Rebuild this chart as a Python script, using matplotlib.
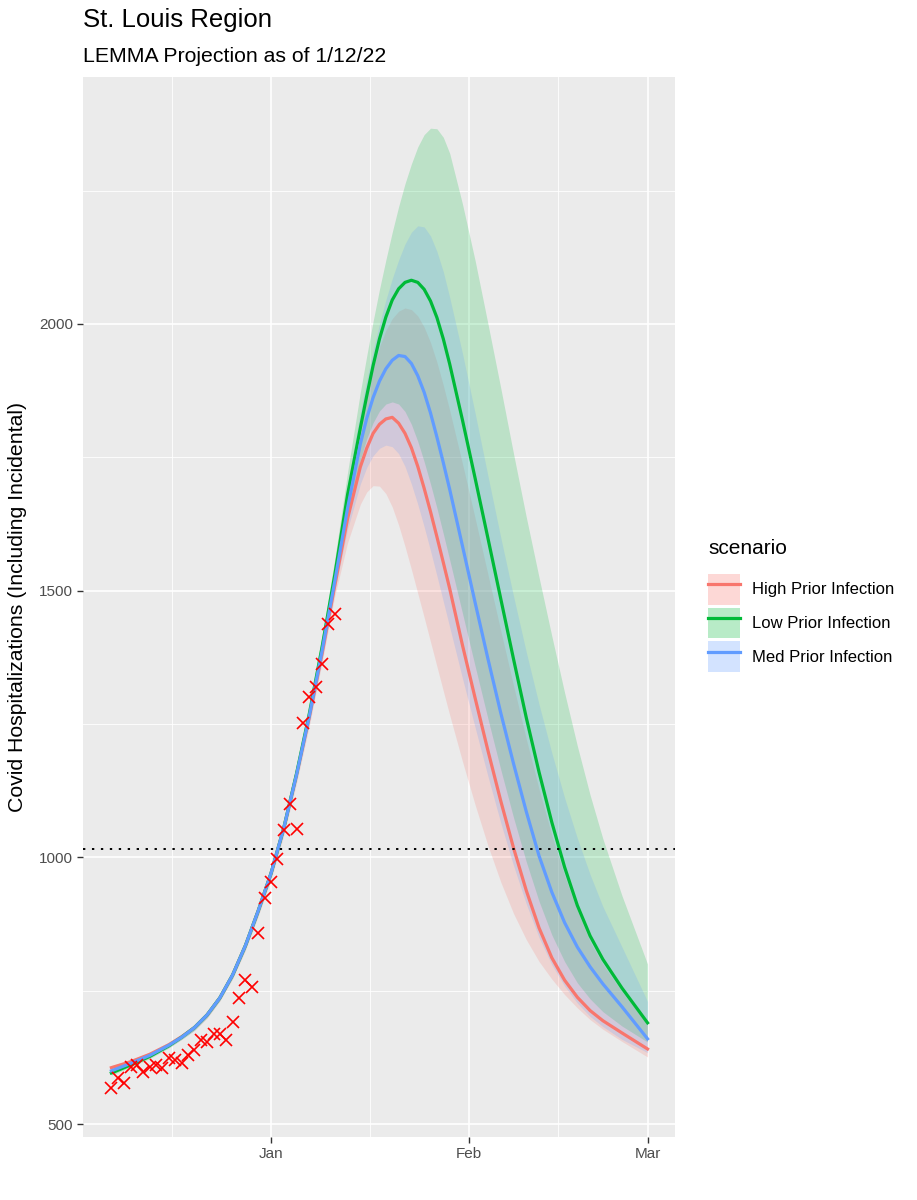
import numpy as np
import matplotlib
matplotlib.use("Agg")
import matplotlib.pyplot as plt
import matplotlib.dates as mdates
from matplotlib.patches import Patch
from matplotlib.lines import Line2D

plt.rcParams['font.family'] = ['Liberation Sans', 'DejaVu Sans']

# days counted from 2022-01-01
days = [-25, -22, -19, -16, -14, -12, -10, -8, -6, -4, -2, 0, 2, 4, 6, 8,
        10, 12, 14, 15, 16, 17, 18, 19, 20, 21, 22, 23, 24, 25, 26, 27, 28,
        30, 32, 34, 36, 38, 40, 42, 44, 46, 48, 50, 52, 55, 59]

high_med = [606, 617, 631, 649, 664, 681, 705, 737, 780, 835, 900, 970, 1055, 1155, 1263, 1382,
            1510, 1635, 1732, 1767, 1795, 1812, 1822, 1825, 1814, 1795, 1768, 1733, 1692, 1648, 1601, 1553, 1504,
            1398, 1298, 1200, 1106, 1018, 938, 868, 812, 770, 738, 713, 694, 671, 641]
high_lo = [600, 611, 625, 644, 659, 676, 699, 731, 773, 826, 890, 958, 1041, 1139, 1246, 1365,
           1490, 1590, 1662, 1685, 1697, 1696, 1682, 1657, 1623, 1583, 1540, 1495, 1450, 1404, 1358, 1312, 1267,
           1180, 1098, 1022, 954, 895, 846, 805, 772, 743, 718, 696, 678, 655, 626]
high_hi = [610, 621, 635, 654, 669, 687, 711, 744, 788, 844, 910, 982, 1069, 1172, 1284, 1407,
           1535, 1690, 1815, 1870, 1918, 1957, 1988, 2010, 2024, 2030, 2027, 2015, 1994, 1965, 1928, 1885, 1838,
           1738, 1635, 1530, 1425, 1322, 1222, 1128, 1042, 966, 900, 842, 800, 748, 686]

low_med = [596, 611, 627, 647, 663, 681, 705, 737, 780, 835, 900, 970, 1055, 1157, 1269, 1394,
           1530, 1680, 1805, 1865, 1922, 1972, 2013, 2045, 2066, 2078, 2082, 2078, 2065, 2043, 2012, 1972, 1925,
           1820, 1710, 1598, 1485, 1372, 1262, 1160, 1066, 982, 910, 853, 809, 755, 690]
low_lo = [592, 607, 623, 643, 659, 676, 700, 732, 774, 828, 892, 962, 1046, 1145, 1255, 1377,
          1505, 1640, 1745, 1785, 1815, 1837, 1850, 1854, 1850, 1836, 1812, 1780, 1742, 1700, 1655, 1607, 1558,
          1458, 1358, 1260, 1165, 1075, 992, 918, 855, 805, 765, 735, 711, 684, 654]
low_hi = [600, 615, 632, 652, 668, 687, 711, 744, 788, 844, 910, 982, 1069, 1173, 1288, 1415,
          1560, 1722, 1872, 1940, 2005, 2065, 2120, 2172, 2220, 2263, 2300, 2332, 2355, 2367, 2366, 2350, 2320,
          2225, 2118, 2000, 1880, 1757, 1638, 1525, 1415, 1309, 1209, 1117, 1035, 928, 800]

med_med = [600, 614, 629, 648, 663, 681, 705, 737, 780, 835, 900, 970, 1055, 1155, 1265, 1387,
           1518, 1655, 1775, 1823, 1862, 1893, 1916, 1932, 1941, 1939, 1926, 1903, 1872, 1833, 1788, 1740, 1690,
           1584, 1477, 1372, 1271, 1176, 1086, 1003, 935, 878, 832, 795, 763, 720, 660]
med_lo = [596, 610, 625, 644, 659, 676, 700, 732, 774, 828, 892, 961, 1045, 1143, 1251, 1370,
          1500, 1615, 1700, 1731, 1753, 1767, 1773, 1770, 1757, 1733, 1700, 1662, 1620, 1575, 1528, 1480, 1432,
          1336, 1243, 1152, 1065, 985, 913, 850, 799, 759, 727, 702, 683, 659, 634]
med_hi = [604, 618, 633, 652, 668, 686, 710, 743, 787, 843, 909, 981, 1068, 1171, 1283, 1407,
          1540, 1700, 1835, 1895, 1950, 2000, 2045, 2085, 2120, 2150, 2172, 2184, 2182, 2165, 2136, 2098, 2050,
          1945, 1832, 1715, 1600, 1490, 1385, 1287, 1196, 1112, 1036, 968, 908, 832, 730]

# observed hospitalizations, daily from Dec 7
obs_start = '2021-12-07'
obs = [567, 586, 577, 607, 611, 598, 607, 611, 605, 624, 620, 614, 629, 639,
       657, 654, 669, 669, 657, 691, 736, 770, 757, 858, 924, 954, 997, 1051,
       1100, 1053, 1252, 1300, 1319, 1362, 1437, 1456]

threshold = 1016

scenarios = ['High Prior Infection', 'Low Prior Infection', 'Med Prior Infection']
colors = ['#F8766D', '#00BA38', '#619CFF']
meds = [high_med, low_med, med_med]
los = [high_lo, low_lo, med_lo]
his = [high_hi, low_hi, med_hi]

base = np.datetime64('2022-01-01')
dates = base + np.array(days).astype('timedelta64[D]')
obs_dates = np.datetime64(obs_start) + np.arange(len(obs)).astype('timedelta64[D]')

fig = plt.figure(figsize=(9.17, 12), dpi=100)
ax = fig.add_axes([83 / 917, 1 - 1137 / 1200, (675 - 83) / 917, (1137 - 77) / 1200])
ax.set_facecolor('#EBEBEB')

for c, lo, hi in zip(colors, los, his):
    ax.fill_between(dates, lo, hi, color=c, alpha=0.2, lw=0, zorder=2)
for c, m in zip(colors, meds):
    ax.plot(dates, m, color=c, lw=2.3, zorder=3, solid_joinstyle='round')

ax.axhline(threshold, color='black', lw=1.4, ls=(0, (1.2, 3.4)), zorder=3.5)
ax.plot(obs_dates, obs, 'x', color='red', ms=8, mew=1.2, zorder=4)

# axes
b = mdates.date2num(base)
ax.set_xlim(b - 29.45, b + 63.3)
ax.set_ylim(476, 2463)
ax.xaxis.set_major_locator(mdates.MonthLocator())
ax.xaxis.set_major_formatter(mdates.DateFormatter('%b'))
majors = mdates.date2num(np.array(['2021-12-01', '2022-01-01', '2022-02-01', '2022-03-01'],
                                  dtype='datetime64[D]'))
ax.xaxis.set_minor_locator(matplotlib.ticker.FixedLocator((majors[:-1] + majors[1:]) / 2))
ax.yaxis.set_major_locator(matplotlib.ticker.MultipleLocator(500))
ax.yaxis.set_minor_locator(matplotlib.ticker.FixedLocator([750, 1250, 1750, 2250]))

ax.grid(which='major', color='white', lw=1.2)
ax.grid(which='minor', color='white', lw=0.6)
ax.set_axisbelow(True)
for s in ax.spines.values():
    s.set_visible(False)
ax.tick_params(which='major', length=4, width=1, color='#333333',
               labelsize=11, labelcolor='#4D4D4D', pad=3)
ax.tick_params(which='minor', length=0)

fig.text(83 / 917, 1 - 20 / 1200, 'St. Louis Region', fontsize=18.5, va='center', ha='left')
fig.text(83 / 917, 1 - 56 / 1200, 'LEMMA Projection as of 1/12/22', fontsize=15.3,
         va='center', ha='left')
fig.text(18 / 917, 1 - 607 / 1200, 'Covid Hospitalizations (Including Incidental)',
         fontsize=15.3, rotation=90, va='center', ha='center')

# legend: title placed on its own, keys below it
fig.text(708 / 917, 1 - 548 / 1200, 'scenario', fontsize=15, va='center', ha='left')
handles = [(Patch(facecolor=c, alpha=0.28, edgecolor='none'), Line2D([], [], color=c, lw=2.3))
           for c in colors]
ax.legend(handles, scenarios, loc='center left', bbox_to_anchor=(708 / 917, 1 - 623 / 1200),
          bbox_transform=fig.transFigure, frameon=False, fontsize=12,
          handlelength=1.9, handleheight=2.48, labelspacing=0.18,
          handletextpad=0.72, borderpad=0, borderaxespad=0)

plt.savefig('out.png', dpi=100)
